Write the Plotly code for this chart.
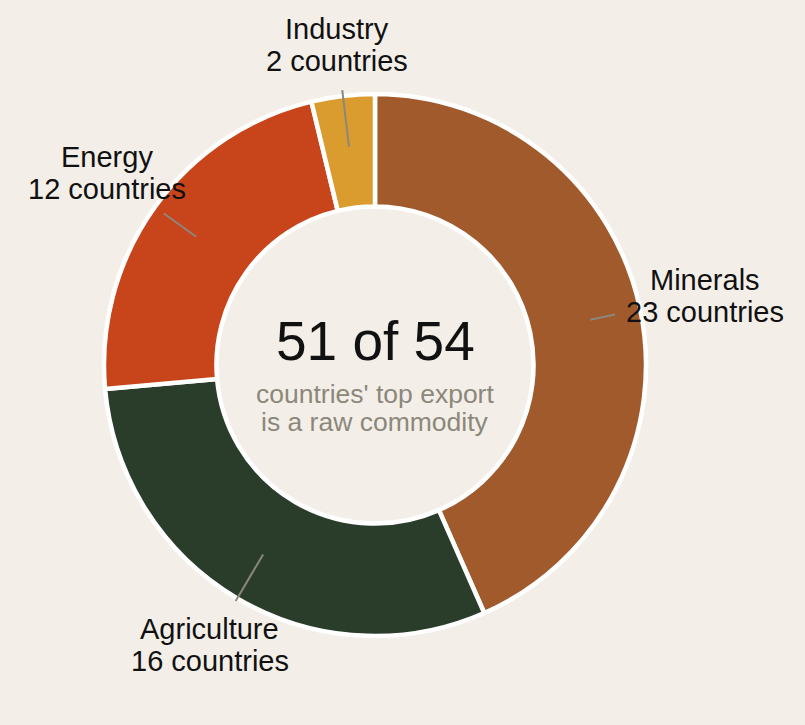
import math
import plotly.graph_objects as go

categories = ["Minerals", "Agriculture", "Energy", "Industry"]
counts = [23, 16, 12, 2]
colors = ["#A05A2C", "#2A3D2A", "#C8441A", "#DB9C2F"]
center_big = "51 of 54"
center_small = ["countries' top export", "is a raw commodity"]

W, H = 805, 725
CX, CY, R = 375, 365, 271
BG = "#F3EFE8"

fig = go.Figure(go.Pie(
    labels=categories, values=counts, sort=False, direction="clockwise", rotation=0,
    hole=0.585, marker=dict(colors=colors, line=dict(color="white", width=4.5)),
    textinfo="none", hoverinfo="label+value", showlegend=False,
    domain=dict(x=[(CX - R) / W, (CX + R) / W], y=[1 - (CY + R) / H, 1 - (CY - R) / H]),
))

def px(x, y):
    return x / W, 1 - y / H

annotations = []
shapes = []
total = sum(counts)
cum = 0
FS = 29
LH = 32
for name, v in zip(categories, counts):
    mid = (cum + v / 2) / total * 2 * math.pi
    cum += v
    dx, dy = math.sin(mid), -math.cos(mid)
    label_r = 341 - 19 * abs(dy)
    lx, ly = CX + dx * label_r, CY + dy * label_r
    hw, hh = 80, 35
    edge = min(hw / max(abs(dx), 1e-6), hh / max(abs(dy), 1e-6))
    r_end = label_r - edge - 10
    x0, y0 = px(CX + dx * 220, CY + dy * 220)
    x1, y1 = px(CX + dx * r_end, CY + dy * r_end)
    shapes.append(dict(type="line", xref="paper", yref="paper", x0=x0, y0=y0, x1=x1, y1=y1,
                       line=dict(color="#8C877E", width=2)))
    for i, t in enumerate([name, f"{v} countries"]):
        ax, ay = px(lx, ly + (i - 0.5) * LH)
        annotations.append(dict(x=ax, y=ay, xref="paper", yref="paper", text=t, showarrow=False,
                                xanchor="center", yanchor="middle",
                                font=dict(family="Liberation Sans, Arial", size=FS, color="#111111")))

ax, ay = px(CX, 341)
annotations.append(dict(x=ax, y=ay, xref="paper", yref="paper", text=center_big, showarrow=False,
                        xanchor="center", yanchor="middle",
                        font=dict(family="Liberation Sans, Arial", size=55, color="#111111")))
for i, t in enumerate(center_small):
    ax, ay = px(CX, 394 + i * 28)
    annotations.append(dict(x=ax, y=ay, xref="paper", yref="paper", text=t, showarrow=False,
                            xanchor="center", yanchor="middle",
                            font=dict(family="Liberation Sans, Arial", size=26.5, color="#8C877B")))

fig.update_layout(width=W, height=H, margin=dict(l=0, r=0, t=0, b=0),
                  paper_bgcolor=BG, plot_bgcolor=BG, annotations=annotations, shapes=shapes)
fig.write_html("out.html")
